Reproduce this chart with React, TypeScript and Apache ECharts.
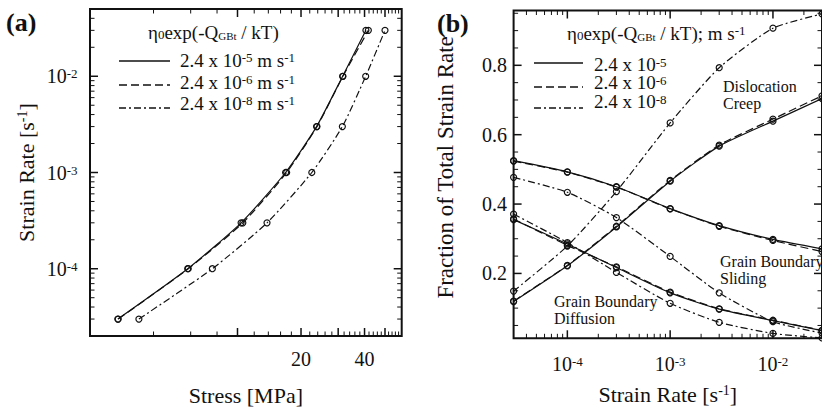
import React, { useEffect, useRef } from 'react';
import * as echarts from 'echarts';

const FONT = 'Liberation Serif, Times New Roman, serif';
const INK = '#111';

// ---------- data ----------
const strainRates = [3e-5, 1e-4, 3e-4, 1e-3, 3e-3, 1e-2, 3e-2];

// panel (a): stress [MPa] at each strain rate
const stressEta5 = [2.71, 5.81, 10.4, 16.9, 23.7, 31.5, 40.6];
const stressEta6 = [2.72, 5.84, 10.6, 17.1, 23.8, 31.6, 41.7];
const stressEta8 = [3.41, 7.6, 13.8, 22.5, 31.4, 40.5, 50.0];

// panel (b): fraction of total strain rate
const dcEta5 = [0.119, 0.222, 0.334, 0.466, 0.567, 0.639, 0.704];
const dcEta6 = [0.120, 0.223, 0.336, 0.468, 0.570, 0.645, 0.712];
const dcEta8 = [0.149, 0.279, 0.436, 0.634, 0.793, 0.907, 0.948];
const gbsEta5 = [0.525, 0.493, 0.450, 0.387, 0.338, 0.298, 0.271];
const gbsEta6 = [0.524, 0.492, 0.449, 0.386, 0.336, 0.295, 0.263];
const gbsEta8 = [0.477, 0.434, 0.361, 0.249, 0.144, 0.061, 0.028];
const gbdEta5 = [0.355, 0.285, 0.217, 0.144, 0.097, 0.064, 0.035];
const gbdEta6 = [0.357, 0.281, 0.219, 0.146, 0.098, 0.065, 0.036];
const gbdEta8 = [0.371, 0.289, 0.203, 0.114, 0.059, 0.027, 0.014];

// ticks and tick labels
const aStressMajorTicks = [10, 20, 30, 40, 50];
const aStressMinorTicks = [4, 6, 8, 12, 14, 16, 18, 22, 24, 26, 28, 32, 34, 36, 38, 42, 44, 46, 48, 52, 54, 56, 58];
const aStressLabelVals = [20, 40];
const aStressLabels = ['20', '40'];

const aRateMajorTicks = [1e-4, 1e-3, 1e-2];
const aRateMinorTicks = [3e-5, 4e-5, 5e-5, 6e-5, 7e-5, 8e-5, 9e-5, 2e-4, 3e-4, 4e-4, 5e-4, 6e-4, 7e-4, 8e-4, 9e-4,
  2e-3, 3e-3, 4e-3, 5e-3, 6e-3, 7e-3, 8e-3, 9e-3, 2e-2, 3e-2, 4e-2];
const aRateLabelVals = [1e-4, 1e-3, 1e-2];
const aRateLabels = ['10{s|-4}', '10{s|-3}', '10{s|-2}'];

const bRateMajorTicks = [1e-4, 1e-3, 1e-2];
const bRateMinorTicks = [4e-5, 5e-5, 6e-5, 7e-5, 8e-5, 9e-5, 2e-4, 3e-4, 4e-4, 5e-4, 6e-4, 7e-4, 8e-4, 9e-4,
  2e-3, 3e-3, 4e-3, 5e-3, 6e-3, 7e-3, 8e-3, 9e-3, 2e-2];
const bRateLabelVals = [1e-4, 1e-3, 1e-2];
const bRateLabels = ['10{s|-4}', '10{s|-3}', '10{s|-2}'];

const bFracMajorTicks = [0.2, 0.4, 0.6, 0.8];
const bFracMinorTicks = [0.05, 0.1, 0.15, 0.25, 0.3, 0.35, 0.45, 0.5, 0.55, 0.65, 0.7, 0.75, 0.85, 0.9, 0.95];
const bFracLabelVals = [0.2, 0.4, 0.6, 0.8];
const bFracLabels = ['0.2', '0.4', '0.6', '0.8'];

const legendEntriesA = ['2.4 x 10{s|-5} m s{s|-1}', '2.4 x 10{s|-6} m s{s|-1}', '2.4 x 10{s|-8} m s{s|-1}'];
const legendEntriesB = ['2.4 x 10{s|-5}', '2.4 x 10{s|-6}', '2.4 x 10{s|-8}'];
const legendTitleA = 'η{b|0}exp(-Q{bs|GBt} / kT)';
const legendTitleB = 'η{b|0}exp(-Q{bs|GBt} / kT); m s{s|-1}';

// ---------- styles ----------
const DASH_SOLID: any = 'solid';
const DASH_DASHED: any = [8, 4];
const DASH_DOT: any = [7, 3, 2, 3];
const dashes = [DASH_SOLID, DASH_DASHED, DASH_DOT];

const RICH: any = {
  s: { fontFamily: FONT, fontSize: 13, lineHeight: 8, verticalAlign: 'top', fill: INK, color: INK },
  b: { fontFamily: FONT, fontSize: 13, lineHeight: 8, verticalAlign: 'bottom', fill: INK, color: INK },
  bs: { fontFamily: FONT, fontSize: 11, lineHeight: 8, verticalAlign: 'bottom', fill: INK, color: INK },
};
const NAME_RICH: any = {
  s: { fontFamily: FONT, fontSize: 14, lineHeight: 10, verticalAlign: 'top', color: INK, fill: INK },
};

function lineSeries(grid: number, xs: number[], ys: number[], dash: any) {
  return {
    type: 'line',
    xAxisIndex: grid,
    yAxisIndex: grid,
    data: xs.map((x, i) => [x, ys[i]]),
    smooth: 0.2,
    symbol: 'circle',
    symbolSize: 6,
    showSymbol: true,
    silent: true,
    z: 3,
    lineStyle: { color: INK, width: 1.2, type: dash },
    itemStyle: { color: 'rgba(0,0,0,0)', borderColor: INK, borderWidth: 1.2 },
    emphasis: { disabled: true },
  };
}

function tickSeries(grid: number, dir: 'x' | 'y', vals: number[], other: number, len: number, width: number) {
  return {
    type: 'custom',
    xAxisIndex: grid,
    yAxisIndex: grid,
    silent: true,
    z: 5,
    data: vals.map((v) => (dir === 'x' ? [v, other] : [other, v])),
    renderItem: (params: any, api: any) => {
      const cs = params.coordSys;
      const p = api.coord([api.value(0), api.value(1)]);
      const style = { stroke: INK, lineWidth: width };
      if (dir === 'x') {
        const b = cs.y + cs.height;
        const t = cs.y;
        return {
          type: 'group',
          children: [
            { type: 'line', shape: { x1: p[0], y1: b, x2: p[0], y2: b - len }, style },
            { type: 'line', shape: { x1: p[0], y1: t, x2: p[0], y2: t + len }, style },
          ],
        };
      }
      const l = cs.x;
      const r = cs.x + cs.width;
      return {
        type: 'group',
        children: [
          { type: 'line', shape: { x1: l, y1: p[1], x2: l + len, y2: p[1] }, style },
          { type: 'line', shape: { x1: r, y1: p[1], x2: r - len, y2: p[1] }, style },
        ],
      };
    },
  };
}

function labelSeries(grid: number, dir: 'x' | 'y', vals: number[], texts: string[], other: number, offset: number) {
  return {
    type: 'custom',
    xAxisIndex: grid,
    yAxisIndex: grid,
    silent: true,
    z: 5,
    data: vals.map((v) => (dir === 'x' ? [v, other] : [other, v])),
    renderItem: (params: any, api: any) => {
      const cs = params.coordSys;
      const p = api.coord([api.value(0), api.value(1)]);
      const base = {
        text: texts[params.dataIndex],
        fontFamily: FONT,
        fontSize: 20,
        lineHeight: 18,
        fill: INK,
        rich: RICH,
      };
      if (dir === 'x') {
        return {
          type: 'text',
          x: p[0],
          y: cs.y + cs.height + offset,
          style: { ...base, align: 'center', verticalAlign: 'middle' },
        };
      }
      return {
        type: 'text',
        x: cs.x - offset,
        y: p[1],
        style: { ...base, align: 'right', verticalAlign: 'middle' },
      };
    },
  };
}

function gtext(x: number, y: number, text: string, size: number, extra: any = {}) {
  return {
    type: 'text',
    x,
    y,
    silent: true,
    style: {
      text,
      fontFamily: FONT,
      fontSize: size,
      lineHeight: size - 1,
      fill: INK,
      align: 'left',
      verticalAlign: 'middle',
      rich: RICH,
      ...extra,
    },
  };
}

function gline(x1: number, x2: number, y: number, dash: any) {
  return {
    type: 'line',
    silent: true,
    shape: { x1, y1: y, x2, y2: y },
    style: { stroke: INK, lineWidth: 1.3, lineDash: dash === 'solid' ? null : dash },
  };
}

const nameStyle = (size: number, extra: any = {}) => ({
  fontFamily: FONT,
  fontSize: size,
  lineHeight: size,
  color: INK,
  rich: NAME_RICH,
  ...extra,
});

const hiddenAxisParts = {
  axisLine: { show: false },
  axisTick: { show: false },
  axisLabel: { show: false },
  splitLine: { show: false },
};

export default function App() {
  const ref = useRef<HTMLDivElement>(null);

  useEffect(() => {
    if (!ref.current) return;
    const chart = echarts.init(ref.current, undefined, { renderer: 'svg' });

    const legendLinesA = [61, 85, 108];
    const legendTextA = [60, 82, 103];
    const legendLinesB = [63, 87, 108];
    const legendTextB = [64, 82, 101];

    const graphic: any[] = [
      gtext(6, 22, '(a)', 26, { fontWeight: 'bold' }),
      gtext(437, 23, '(b)', 26, { fontWeight: 'bold' }),
      gtext(148, 32, legendTitleA, 19),
      gtext(567, 33, legendTitleB, 19),
      gtext(723, 86, 'Dislocation', 16),
      gtext(723, 103, 'Creep', 16),
      gtext(720, 261, 'Grain Boundary', 16),
      gtext(720, 278, 'Sliding', 16),
      gtext(554, 301, 'Grain Boundary', 16),
      gtext(554, 318, 'Diffusion', 16),
    ];
    legendEntriesA.forEach((t, i) => {
      graphic.push(gline(119, 170, legendLinesA[i], dashes[i]));
      graphic.push(gtext(180, legendTextA[i], t, 19));
    });
    legendEntriesB.forEach((t, i) => {
      graphic.push(gline(534, 583, legendLinesB[i], dashes[i]));
      graphic.push(gtext(594, legendTextB[i], t, 19, { lineHeight: 16 }));
    });

    const option: any = {
      animation: false,
      backgroundColor: '#fff',
      grid: [
        { left: 90, top: 9, width: 311.7, height: 328.7, show: true, borderColor: INK, borderWidth: 2, backgroundColor: 'transparent' },
        { left: 513.6, top: 10.5, width: 319.5, height: 327.8, show: true, borderColor: INK, borderWidth: 2, backgroundColor: 'transparent' },
      ],
      xAxis: [
        {
          type: 'log', logBase: 10, gridIndex: 0, min: 2, max: 60,
          ...hiddenAxisParts,
          name: 'Stress [MPa]', nameLocation: 'middle', nameGap: 48, nameTextStyle: nameStyle(22),
        },
        {
          type: 'log', logBase: 10, gridIndex: 1, min: 3e-5, max: 3e-2,
          ...hiddenAxisParts,
          name: 'Strain Rate [s{s|-1}]', nameLocation: 'middle', nameGap: 45, nameTextStyle: nameStyle(22),
        },
      ],
      yAxis: [
        {
          type: 'log', logBase: 10, gridIndex: 0, min: 2e-5, max: 5e-2,
          ...hiddenAxisParts,
          name: 'Strain Rate [s{s|-1}]', nameLocation: 'middle', nameGap: 53, nameTextStyle: nameStyle(22),
        },
        {
          type: 'value', gridIndex: 1, min: 0.013, max: 0.958,
          ...hiddenAxisParts,
          name: 'Fraction of Total Strain Rate', nameLocation: 'middle', nameGap: 57,
          nameTextStyle: nameStyle(23, { padding: [0, 0, 0, 14] }),
        },
      ],
      series: [
        lineSeries(0, stressEta5, strainRates, DASH_SOLID),
        lineSeries(0, stressEta6, strainRates, DASH_DASHED),
        lineSeries(0, stressEta8, strainRates, DASH_DOT),
        lineSeries(1, strainRates, dcEta5, DASH_SOLID),
        lineSeries(1, strainRates, dcEta6, DASH_DASHED),
        lineSeries(1, strainRates, dcEta8, DASH_DOT),
        lineSeries(1, strainRates, gbsEta5, DASH_SOLID),
        lineSeries(1, strainRates, gbsEta6, DASH_DASHED),
        lineSeries(1, strainRates, gbsEta8, DASH_DOT),
        lineSeries(1, strainRates, gbdEta5, DASH_SOLID),
        lineSeries(1, strainRates, gbdEta6, DASH_DASHED),
        lineSeries(1, strainRates, gbdEta8, DASH_DOT),
        tickSeries(0, 'x', aStressMajorTicks, 2e-5, 8, 1.5),
        tickSeries(0, 'x', aStressMinorTicks, 2e-5, 4.5, 1),
        tickSeries(0, 'y', aRateMajorTicks, 2, 8, 1.5),
        tickSeries(0, 'y', aRateMinorTicks, 2, 4.5, 1),
        tickSeries(1, 'x', bRateMajorTicks, 0.013, 8, 1.5),
        tickSeries(1, 'x', bRateMinorTicks, 0.013, 4.5, 1),
        tickSeries(1, 'y', bFracMajorTicks, 3e-5, 8, 1.5),
        tickSeries(1, 'y', bFracMinorTicks, 3e-5, 4.5, 1),
        labelSeries(0, 'x', aStressLabelVals, aStressLabels, 2e-5, 23),
        labelSeries(0, 'y', aRateLabelVals, aRateLabels, 2, 12.5),
        labelSeries(1, 'x', bRateLabelVals, bRateLabels, 0.013, 26),
        labelSeries(1, 'y', bFracLabelVals, bFracLabels, 3e-5, 6.6),
      ],
      graphic,
    };

    chart.setOption(option);
    return () => {
      chart.dispose();
    };
  }, []);

  return (
    <div
      ref={ref}
      style={{ position: 'fixed', left: 0, top: 0, width: 822, height: 411, background: '#fff' }}
    />
  );
}
